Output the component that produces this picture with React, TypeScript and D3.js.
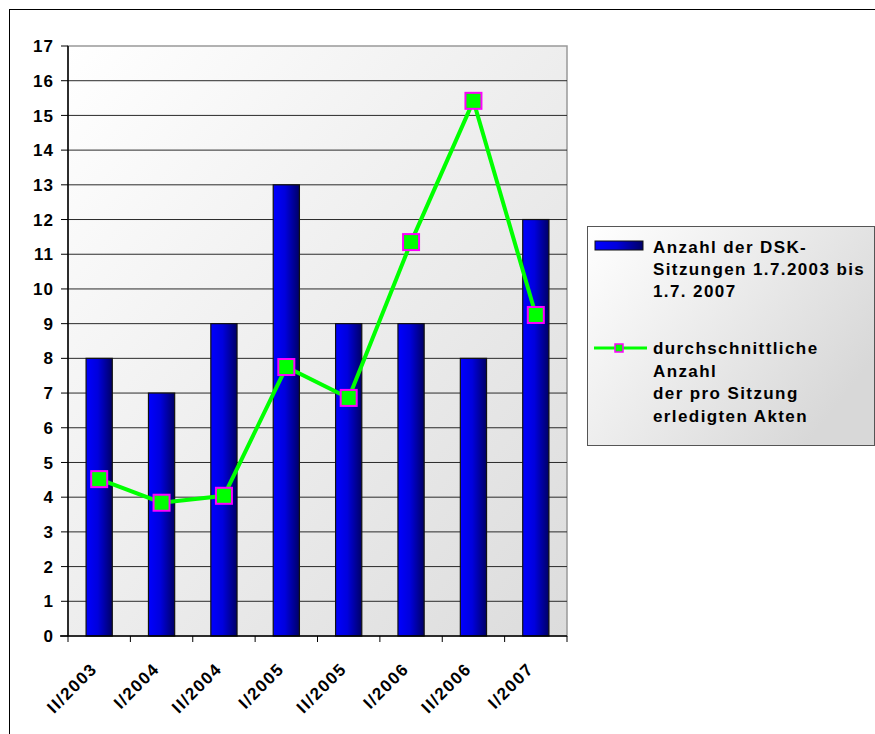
import React from "react";
import * as d3 from "d3";

const categories = ["II/2003", "I/2004", "II/2004", "I/2005", "II/2005", "I/2006", "II/2006", "I/2007"];
const sessions = [8, 7, 9, 13, 9, 9, 8, 12];
const avgFiles = [4.52, 3.84, 4.04, 7.75, 6.86, 11.35, 15.42, 9.25];
const yTicks = d3.range(0, 18);
const legendBar = ["Anzahl der DSK-", "Sitzungen 1.7.2003 bis", "1.7. 2007"];
const legendLine = ["durchschnittliche", "Anzahl", "der pro Sitzung", "erledigten Akten"];

const W = 875;
const H = 734;
const plot = { left: 68, right: 567, top: 46, bottom: 636 };
const font = "'Liberation Sans', Arial, sans-serif";

export default function App() {
  const x = d3
    .scaleBand<string>()
    .domain(categories)
    .range([plot.left, plot.right])
    .paddingInner(0.58)
    .paddingOuter(0.29);
  const y = d3.scaleLinear().domain([0, 17]).range([plot.bottom, plot.top]);
  const cx = (c: string) => (x(c) ?? 0) + x.bandwidth() / 2;
  const step = (plot.right - plot.left) / categories.length;

  const line = d3
    .line<number>()
    .x((_, i) => cx(categories[i]))
    .y((d) => y(d));

  return (
    <svg
      width={W}
      height={H}
      style={{ position: "absolute", left: 0, top: 0, background: "#fff" }}
      fontFamily={font}
    >
      <defs>
        <linearGradient id="plotBg" x1="0" y1="0" x2="1" y2="1">
          <stop offset="0" stopColor="#ffffff" />
          <stop offset="1" stopColor="#dcdcdc" />
        </linearGradient>
        <linearGradient id="barFill" x1="0" y1="0" x2="1" y2="0">
          <stop offset="0" stopColor="#0000ff" />
          <stop offset="0.45" stopColor="#0000dd" />
          <stop offset="1" stopColor="#000066" />
        </linearGradient>
        <linearGradient id="legBg" x1="0" y1="0" x2="1" y2="0.6">
          <stop offset="0" stopColor="#ffffff" />
          <stop offset="1" stopColor="#d8d8d8" />
        </linearGradient>
      </defs>

      {/* outer frame */}
      <rect x={9.5} y={9.5} width={W + 20} height={H + 20} fill="none" stroke="#000" />

      {/* plot area */}
      <rect
        x={plot.left}
        y={plot.top}
        width={plot.right - plot.left}
        height={plot.bottom - plot.top}
        fill="url(#plotBg)"
        stroke="#999"
        strokeWidth={1.5}
      />

      {/* gridlines */}
      {yTicks.slice(1, -1).map((t) => (
        <line key={t} x1={plot.left} x2={plot.right} y1={y(t)} y2={y(t)} stroke="#2a2a2a" strokeWidth={1} />
      ))}

      {/* bars */}
      {sessions.map((v, i) => (
        <rect
          key={categories[i]}
          x={x(categories[i])}
          y={y(v)}
          width={x.bandwidth()}
          height={y(0) - y(v)}
          fill="url(#barFill)"
          stroke="#111"
          strokeWidth={1.2}
        />
      ))}

      {/* axes */}
      <line x1={plot.left} x2={plot.left} y1={plot.top} y2={plot.bottom} stroke="#000" strokeWidth={1.5} />
      <line x1={plot.left - 8} x2={plot.right} y1={plot.bottom} y2={plot.bottom} stroke="#000" strokeWidth={1.5} />
      {yTicks.map((t) => (
        <g key={t}>
          <line x1={plot.left - 7} x2={plot.left} y1={y(t)} y2={y(t)} stroke="#000" />
          <text
            x={54}
            y={y(t)}
            dy="0.36em"
            textAnchor="end"
            fontSize={17}
            fontWeight="bold"
            letterSpacing={1}
          >
            {t}
          </text>
        </g>
      ))}
      {d3.range(categories.length + 1).map((i) => (
        <line
          key={i}
          x1={plot.left + i * step}
          x2={plot.left + i * step}
          y1={plot.bottom}
          y2={plot.bottom + 6}
          stroke="#000"
        />
      ))}
      {categories.map((c) => (
        <text
          key={c}
          transform={`translate(${cx(c) - 1},${plot.bottom + 34}) rotate(-45)`}
          textAnchor="end"
          fontSize={17}
          fontWeight="bold"
          letterSpacing={1.5}
        >
          {c}
        </text>
      ))}

      {/* line series */}
      <path d={line(avgFiles) ?? ""} fill="none" stroke="#00ff00" strokeWidth={4} />
      {avgFiles.map((v, i) => (
        <rect
          key={i}
          x={cx(categories[i]) - 8}
          y={y(v) - 8}
          width={16}
          height={16}
          fill="#00ff00"
          stroke="#ff00ff"
          strokeWidth={2}
        />
      ))}

      {/* legend */}
      <rect x={587.5} y={226.5} width={287} height={219} fill="url(#legBg)" stroke="#555" />
      <rect x={595} y={241} width={48} height={9} fill="url(#barFill)" stroke="#111" />
      {legendBar.map((t, i) => (
        <text key={t} x={653} y={247 + i * 22} dy="0.35em" fontSize={17} fontWeight="bold" letterSpacing={1.4}>
          {t}
        </text>
      ))}
      <line x1={594} x2={647} y1={348} y2={348} stroke="#00ff00" strokeWidth={3} />
      <rect x={615} y={344} width={8} height={8} fill="#00ff00" stroke="#ff00ff" strokeWidth={1.5} />
      {legendLine.map((t, i) => (
        <text key={t} x={653} y={348 + i * 22.7} dy="0.35em" fontSize={17} fontWeight="bold" letterSpacing={1.4}>
          {t}
        </text>
      ))}
    </svg>
  );
}
